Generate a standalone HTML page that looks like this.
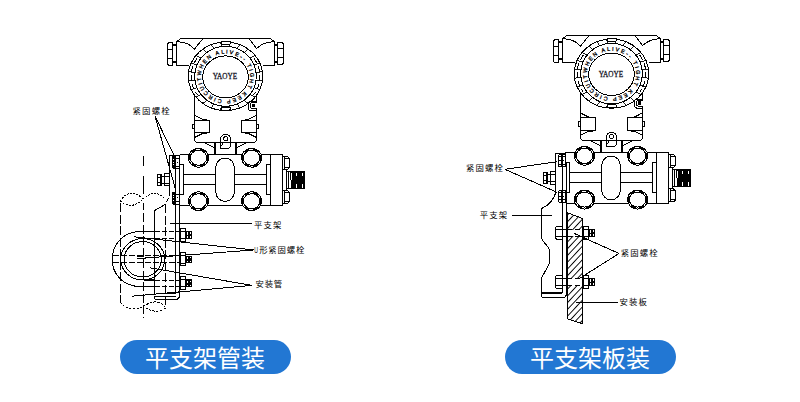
<!DOCTYPE html>
<html lang="zh-CN">
<head>
<meta charset="utf-8">
<title>平支架安装</title>
<style>
html,body{margin:0;padding:0;background:#fff;}
body{width:800px;height:402px;overflow:hidden;position:relative;font-family:"Liberation Sans","Noto Sans CJK SC",sans-serif;}
svg{position:absolute;left:0;top:0;display:block;}
svg .d{fill:none;stroke:#000;stroke-width:1;shape-rendering:crispEdges;stroke-linecap:butt;stroke-linejoin:miter;}
svg text{stroke:none;fill:#000;}
svg text.rt{stroke:#000;stroke-width:0.3px;}
svg text.lb{stroke:none;}
svg text.logo{stroke:#112;stroke-width:0.3px;}
.lb{font-family:"Liberation Sans","Noto Sans CJK SC",sans-serif;font-size:8.4px;letter-spacing:1.15px;font-weight:400;}
.rt{font-family:"Liberation Sans",sans-serif;font-size:5.4px;}
.logo{font-family:"Liberation Serif",serif;font-size:9px;font-weight:normal;fill:#1a1a2a;}
.pill{position:absolute;top:340px;height:34px;border-radius:17px;background:#2277d3;color:#fff;font-size:24px;line-height:34px;text-align:center;letter-spacing:0px;}
.pill span{display:block;position:relative;top:2px;left:-0.5px;}
</style>
</head>
<body>
<svg width="800" height="402" viewBox="0 0 800 402">
<g class="d">
<g>
<path d="M188.5,65.5 L176.5,65.5 L176.5,41.5 L181,38.5 L270,38.5 L274.5,41.5 L274.5,65.5 L262.5,65.5"/>
<path d="M176.5,41.5 Q184,42 189,44.5 L194.5,49 L203,38.5"/>
<path d="M274.5,41.5 Q267,42 262,44.5 L256.5,48.5 L249,38.5"/>
<path d="M169,42.5 L172.5,42.5 L172.5,65.5 L169,65.5 L167.5,64 L167.5,44 Z"/>
<path d="M167.5,49.5 L172.5,49.5 M167.5,58.5 L172.5,58.5"/>
<rect x="173" y="44" width="3.5" height="2" fill="#000" stroke="none"/>
<rect x="173" y="61" width="3.5" height="2" fill="#000" stroke="none"/>
<path d="M277.5,42.5 L282,42.5 L283.5,44 L283.5,63 L282,64.5 L277.5,64.5 Z"/>
<path d="M277.5,48.5 L283.5,48.5 M277.5,57.5 L283.5,57.5"/>
<rect x="274" y="44" width="3.5" height="2" fill="#000" stroke="none"/>
<rect x="274" y="61" width="3.5" height="2" fill="#000" stroke="none"/>
<path d="M194.5,94 L194.5,139 Q194.5,142.5 197.5,142.5 L253.5,142.5 Q256.5,142.5 256.5,139 L256.5,94"/>
<path d="M194,115 L203,119.6 M194,137.8 L203.5,133 M257,115 L248,119.6 M257,137.8 L247.5,133"/>
<rect x="194.6" y="120.2" width="15.2" height="12.4"/>
<rect x="241.2" y="120.2" width="15.2" height="12.4"/>
<path d="M202.5,119.9 L206.5,119.9 M202.5,132.9 L206.5,132.9 M244.5,119.9 L248.5,119.9 M244.5,132.9 L248.5,132.9" stroke-width="1.6"/>
<rect x="192.4" y="124" width="1.8" height="4.6"/>
<rect x="256.8" y="124" width="1.8" height="4.6"/>
<path d="M214.5,142.5 L214.5,154 M236,142.5 L236,154" stroke-width="2"/>
<path d="M204.2,142.6 L213.9,147.4 M246.8,142.6 L237,147.4"/>
<path d="M220.5,148.5 L220.5,139.3 A5.1,5 0 0 1 230.7,139.3 L230.7,146 L228.5,148.5 Z" fill="#fff"/>
<path d="M220.5,142.5 L230.7,142.5 M222.8,143 L221.5,146.5"/>
<ellipse cx="225.6" cy="138.7" rx="2.2" ry="2"  fill="#fff"/>
<ellipse cx="225.5" cy="76.3" rx="37.2" ry="34.3" fill="#fff"/>
<ellipse cx="225.5" cy="76.3" rx="37.2" ry="34.3"/>
<path d="M197.3,57.9 A34.4,32.2 0 0 0 197.3,94.7 M253.7,57.9 A34.4,32.2 0 0 1 253.7,94.7" stroke-dasharray="6 3"/>
<ellipse cx="225.5" cy="76.3" rx="30.8" ry="30"/>
<path d="M256.0,80.2L262.4,80.8M254.0,87.8L259.9,89.4M249.9,94.6L255.0,97.2M244.2,100.1L248.1,103.5M237.3,104.0L239.7,108.0M229.5,106.0L230.4,110.3M221.5,106.0L220.6,110.3M213.7,104.0L211.3,108.0M206.8,100.1L202.9,103.5M201.1,94.6L196.0,97.2M197.0,87.8L191.1,89.4M195.0,80.2L188.6,80.8M195.0,72.4L188.6,71.8M197.0,64.8L191.1,63.2M201.1,58.0L196.0,55.4M206.8,52.5L202.9,49.1M213.7,48.6L211.3,44.6M221.5,46.6L220.6,42.3M229.5,46.6L230.4,42.3M237.3,48.6L239.7,44.6M244.2,52.5L248.1,49.1M249.9,58.0L255.0,55.4M254.0,64.8L259.9,63.2M256.0,72.4L262.4,71.8" stroke-width="0.9"/>
<ellipse cx="225.5" cy="76.89999999999999" rx="22.8" ry="21"/>
<rect x="221.3" y="41.2" width="9" height="3.2" rx="1" fill="#fff"/>
<rect x="221.3" y="107.2" width="9" height="2.8" rx="1" fill="#fff"/>
<path id="arp" d="M200.9,76.7 A24.6,23.1 0 0 1 250.1,76.7 A24.6,23.1 0 0 1 200.9,76.7" fill="none" stroke="none"/>
<text class="rt"><textPath href="#arp" startOffset="1" textLength="147" lengthAdjust="spacing">WHEN ALIVE-- TIGHT KEEP CIRCUIT </textPath></text>
<text class="logo" x="224.9" y="79.2" text-anchor="middle" textLength="24.4" lengthAdjust="spacingAndGlyphs">YAOYE</text>
<path d="M256.5,101.5 L251,101.5 Q248.5,101.5 248.5,104 L248.5,108 Q248.5,110.5 251,110.5 L256.5,110.5 Z" fill="#fff"/>
<path d="M256.5,102.8 L252,102.8 Q250.6,102.8 250.6,104.2 L250.6,107 Q250.6,108.5 252,108.5 L256.5,108.5" fill="#fff"/>
<rect x="252" y="103.9" width="3" height="3.1" fill="#000" stroke="none"/>
<path d="M179.5,154.5 L282.5,154.5 L282.5,205.5 L179.5,205.5"/>
<path d="M179.5,154.5 L179.5,164.5 L183.5,164.5 L183.5,194.5 L179.5,194.5"/>
<path d="M270.5,154.5 L270.5,205.5 M270.5,164.5 L266.5,164.5 L266.5,194.5 L270.5,194.5"/>
<path d="M183.5,174.5 L266.5,174.5 M183.5,184.5 L266.5,184.5"/>
<path d="M215.8,167.2 A9.25,9.2 0 0 1 234.3,167.2 L234.3,192.2 A9.25,9.2 0 0 1 215.8,192.2 Z" fill="#fff"/>
<ellipse cx="198.5" cy="157.8" rx="10.4" ry="9.7" fill="#fff" stroke="none"/><ellipse cx="198.5" cy="157.8" rx="10.1" ry="9.4" fill="none"/><ellipse cx="198.5" cy="157.8" rx="9.2" ry="8.45" fill="none" stroke-dasharray="5 4" stroke-dashoffset="2"/><ellipse cx="198.5" cy="157.8" rx="8.3" ry="7.5" fill="none"/>
<ellipse cx="251.6" cy="157.8" rx="10.4" ry="9.7" fill="#fff" stroke="none"/><ellipse cx="251.6" cy="157.8" rx="10.1" ry="9.4" fill="none"/><ellipse cx="251.6" cy="157.8" rx="9.2" ry="8.45" fill="none" stroke-dasharray="5 4" stroke-dashoffset="2"/><ellipse cx="251.6" cy="157.8" rx="8.3" ry="7.5" fill="none"/>
<ellipse cx="198.5" cy="201.2" rx="10.4" ry="9.7" fill="#fff" stroke="none"/><ellipse cx="198.5" cy="201.2" rx="10.1" ry="9.4" fill="none"/><ellipse cx="198.5" cy="201.2" rx="9.2" ry="8.45" fill="none" stroke-dasharray="5 4" stroke-dashoffset="2"/><ellipse cx="198.5" cy="201.2" rx="8.3" ry="7.5" fill="none"/>
<ellipse cx="251.6" cy="201.2" rx="10.4" ry="9.7" fill="#fff" stroke="none"/><ellipse cx="251.6" cy="201.2" rx="10.1" ry="9.4" fill="none"/><ellipse cx="251.6" cy="201.2" rx="9.2" ry="8.45" fill="none" stroke-dasharray="5 4" stroke-dashoffset="2"/><ellipse cx="251.6" cy="201.2" rx="8.3" ry="7.5" fill="none"/>
<path d="M282.8,156.5 L287.5,156.5 L289.5,158.5 L289.5,167.5 L287.5,169.5 L282.8,169.5"/>
<path d="M282.8,190.5 L287.5,190.5 L289.5,192.5 L289.5,201.5 L287.5,203.5 L282.8,203.5"/>
<path d="M284.5,158.5 L289.5,158.5 M284.5,167.5 L289.5,167.5 M284.5,192.5 L289.5,192.5 M284.5,201.5 L289.5,201.5 M284.5,157 L284.5,169 M284.5,191 L284.5,203"/>
<path d="M286.5,169.5 L286.5,190.5"/>
<rect x="286.5" y="171.5" width="18" height="17" fill="#fff"/>
<rect x="290" y="171" width="15" height="18" fill="#000" stroke="none"/>
<path d="M288.5,172 L288.5,188"/>
<path d="M291.5,172.5 L291.5,179.5 M290.5,180 L290.5,187.5" stroke="#fff"/>
<path d="M296.5,172.5 L296.5,176 M296.5,184 L296.5,187.5 M302.5,172.5 L302.5,176 M302.5,184 L302.5,187.5" stroke="#fff"/>
<path d="M179.6,155.7 L169.5,155.7 L169.5,196.4"/>
<rect x="172.5" y="155.7" width="7.1" height="12.8" fill="#fff" stroke="none"/>
<path d="M172.5,158.89999999999998 L179.6,158.89999999999998 M172.5,166.0 L179.6,166.0 M172.5,168.5 L179.6,168.5"/>
<rect x="172.3" y="156.0" width="2.6" height="12" fill="#000" stroke="none"/>
<path d="M173.8,159.29999999999998 L173.8,165.5" stroke="#fff" stroke-dasharray="1 1.4"/>
<rect x="177" y="161.7" width="1" height="1" fill="#000" stroke="none"/>
<path d="M175.7,155.7 L175.7,168.5 M179.6,155.7 L179.6,168.5"/>
<rect x="172.5" y="191.2" width="7.1" height="12.8" fill="#fff" stroke="none"/>
<path d="M172.5,194.39999999999998 L179.6,194.39999999999998 M172.5,201.5 L179.6,201.5 M172.5,204.0 L179.6,204.0"/>
<rect x="172.3" y="191.5" width="2.6" height="12" fill="#000" stroke="none"/>
<path d="M173.8,194.79999999999998 L173.8,201.0" stroke="#fff" stroke-dasharray="1 1.4"/>
<rect x="177" y="197.2" width="1" height="1" fill="#000" stroke="none"/>
<path d="M175.7,191.2 L175.7,204.0 M179.6,191.2 L179.6,204.0"/>
<rect x="157.5" y="174.5" width="3.5" height="11" fill="#fff"/>
<path d="M160.7,174.5 L160.7,185.5" stroke-width="1.6"/>
<rect x="161.5" y="176.5" width="3" height="6.8" fill="#fff"/>
<rect x="164.5" y="173.5" width="5" height="12.4" fill="#fff"/>
<path d="M157.5,177.3 L161,177.3 M157.5,182.7 L161,182.7 M164.5,176 L169.5,176 M164.5,183.5 L169.5,183.5"/>
</g>
<path d="M175.6,156 L175.6,293.6 M179.4,164 L179.4,296" />
<path d="M160,293.4 L175.9,293.4" stroke-width="1.6"/>
<path d="M179.4,295.5 Q179.4,299.3 176,299.3 L156,299.3 Q154.5,299.3 154.5,297.6 Q154.5,296 156,296 L175.9,296"/>
<path d="M143.5,156.3 L143.5,166 M143.5,176 L143.5,193.5 M143.5,203 L143.5,210" />
<path d="M143.5,213 L143.5,318" stroke-dasharray="9 2.5"/>
<path d="M120.2,203 L120.2,302" stroke-dasharray="9 2.5"/>
<path d="M165.7,204 L165.7,309" stroke-dasharray="9 2.5"/>
<path d="M120.3,201 C123,196 128,193 132,193.1 C136.5,193.2 140,196.5 143.1,198.9 M120.3,201 C123,203.5 127,205.4 130.5,205.4 C135,205.4 140,202.5 143.1,198.9 C146.5,197.5 150.5,193.1 154,193.1 C158.5,193.2 163,196.5 165.3,199.5" stroke-dasharray="1.7 1.5"/>
<path d="M168.8,198 L166.3,202" />
<path d="M120.2,302 C123,306 128,309 135,309 C139,309 141,307.5 143.5,306.5 C146,305 150,301.5 156,302 C161,302.5 164,305 165.7,308 C163,310.5 158,311.5 154,311 C149,310.5 146,308 143.5,306.5" stroke-dasharray="2.2 1.5"/>
<path d="M154.5,231.4 L138,231.4 C122,233 112.3,245 112.3,259.3 C112.3,274 122,285.5 140,286.8 L154.5,286.8"/>
<path d="M154.5,231.4 L179,231.4 M154.5,238.3 L175,238.3 M154.5,280 L179,280 M154.5,286.8 L179,286.8" stroke-dasharray="5 2"/>
<path d="M143.5,280 L154.5,280" stroke-width="1.5"/>
<path d="M165.5,204 C162,206.5 158,208.8 154.5,210.5 L154.5,293.6"/>
<ellipse cx="142.7" cy="259.3" rx="22" ry="20.7"/>
<ellipse cx="142.7" cy="259.3" rx="18.6" ry="17.7"/>
<path d="M112.5,255.2 L179,255.2 M112.5,262 L179,262" stroke-dasharray="6 2"/>
<path d="M137,256.5 L143.5,256.5"/>
<rect x="180" y="228.3" width="5.6" height="13" fill="#fff"/><path d="M180.3,228.3 L180.3,241.3" stroke-width="1.6"/><path d="M180,231.3 L185.6,231.3 M180,238.5 L185.6,238.5"/><rect x="185.6" y="231.0" width="6.2" height="7.8" fill="#000" stroke="none"/><path d="M187.6,232.3 L187.6,234.9 M190.0,232.3 L190.0,233.5 M190.0,236.3 L190.0,237.5 M187.6,236.10000000000002 L187.6,237.5" stroke="#fff"/>
<rect x="180" y="252.8" width="5.6" height="13" fill="#fff"/><path d="M180.3,252.8 L180.3,265.8" stroke-width="1.6"/><path d="M180,255.8 L185.6,255.8 M180,263.0 L185.6,263.0"/><rect x="185.6" y="255.5" width="6.2" height="7.8" fill="#000" stroke="none"/><path d="M187.6,256.8 L187.6,259.40000000000003 M190.0,256.8 L190.0,258.0 M190.0,260.8 L190.0,262.0 M187.6,260.6 L187.6,262.0" stroke="#fff"/>
<rect x="180" y="276.7" width="5.6" height="13" fill="#fff"/><path d="M180.3,276.7 L180.3,289.7" stroke-width="1.6"/><path d="M180,279.7 L185.6,279.7 M180,286.9 L185.6,286.9"/><rect x="185.6" y="279.4" width="6.2" height="7.8" fill="#000" stroke="none"/><path d="M187.6,280.7 L187.6,283.3 M190.0,280.7 L190.0,281.9 M190.0,284.7 L190.0,285.9 M187.6,284.5 L187.6,285.9" stroke="#fff"/>
<path d="M155,116 L174.5,156.5 M155,116 L176,191"/>
<path d="M170.2,223.3 L252.4,223.3"/>
<path d="M253.6,250 L134,236.8 M253.6,250 L137.5,258.6"/>
<path d="M252,285.4 L150,267.8 M252,285.4 L132,296.2"/>
<text class="lb" x="132.6" y="114.2">紧固螺栓</text>
<text class="lb" x="254" y="228.4">平支架</text>
<text class="lb" x="254.2" y="253.4" textLength="4.4" lengthAdjust="spacingAndGlyphs">U</text><text class="lb" x="259.2" y="253.4" style="letter-spacing:0.8px">形紧固螺栓</text>
<text class="lb" x="255.6" y="287" style="letter-spacing:0.75px">安装管</text>
<g transform="translate(386,-3.33) scale(1,1.0086)">
<path d="M188.5,65.5 L176.5,65.5 L176.5,41.5 L181,38.5 L270,38.5 L274.5,41.5 L274.5,65.5 L262.5,65.5"/>
<path d="M176.5,41.5 Q184,42 189,44.5 L194.5,49 L203,38.5"/>
<path d="M274.5,41.5 Q267,42 262,44.5 L256.5,48.5 L249,38.5"/>
<path d="M169,42.5 L172.5,42.5 L172.5,65.5 L169,65.5 L167.5,64 L167.5,44 Z"/>
<path d="M167.5,49.5 L172.5,49.5 M167.5,58.5 L172.5,58.5"/>
<rect x="173" y="44" width="3.5" height="2" fill="#000" stroke="none"/>
<rect x="173" y="61" width="3.5" height="2" fill="#000" stroke="none"/>
<path d="M277.5,42.5 L282,42.5 L283.5,44 L283.5,63 L282,64.5 L277.5,64.5 Z"/>
<path d="M277.5,48.5 L283.5,48.5 M277.5,57.5 L283.5,57.5"/>
<rect x="274" y="44" width="3.5" height="2" fill="#000" stroke="none"/>
<rect x="274" y="61" width="3.5" height="2" fill="#000" stroke="none"/>
<path d="M194.5,94 L194.5,139 Q194.5,142.5 197.5,142.5 L253.5,142.5 Q256.5,142.5 256.5,139 L256.5,94"/>
<path d="M194,115 L203,119.6 M194,137.8 L203.5,133 M257,115 L248,119.6 M257,137.8 L247.5,133"/>
<rect x="194.6" y="120.2" width="15.2" height="12.4"/>
<rect x="241.2" y="120.2" width="15.2" height="12.4"/>
<path d="M202.5,119.9 L206.5,119.9 M202.5,132.9 L206.5,132.9 M244.5,119.9 L248.5,119.9 M244.5,132.9 L248.5,132.9" stroke-width="1.6"/>
<rect x="192.4" y="124" width="1.8" height="4.6"/>
<rect x="256.8" y="124" width="1.8" height="4.6"/>
<path d="M214.5,142.5 L214.5,154 M236,142.5 L236,154" stroke-width="2"/>
<path d="M204.2,142.6 L213.9,147.4 M246.8,142.6 L237,147.4"/>
<path d="M220.5,148.5 L220.5,139.3 A5.1,5 0 0 1 230.7,139.3 L230.7,146 L228.5,148.5 Z" fill="#fff"/>
<path d="M220.5,142.5 L230.7,142.5 M222.8,143 L221.5,146.5"/>
<ellipse cx="225.6" cy="138.7" rx="2.2" ry="2"  fill="#fff"/>
<ellipse cx="225.5" cy="76.3" rx="37.2" ry="34.3" fill="#fff"/>
<ellipse cx="225.5" cy="76.3" rx="37.2" ry="34.3"/>
<path d="M197.3,57.9 A34.4,32.2 0 0 0 197.3,94.7 M253.7,57.9 A34.4,32.2 0 0 1 253.7,94.7" stroke-dasharray="6 3"/>
<ellipse cx="225.5" cy="76.3" rx="30.8" ry="30"/>
<path d="M256.0,80.2L262.4,80.8M254.0,87.8L259.9,89.4M249.9,94.6L255.0,97.2M244.2,100.1L248.1,103.5M237.3,104.0L239.7,108.0M229.5,106.0L230.4,110.3M221.5,106.0L220.6,110.3M213.7,104.0L211.3,108.0M206.8,100.1L202.9,103.5M201.1,94.6L196.0,97.2M197.0,87.8L191.1,89.4M195.0,80.2L188.6,80.8M195.0,72.4L188.6,71.8M197.0,64.8L191.1,63.2M201.1,58.0L196.0,55.4M206.8,52.5L202.9,49.1M213.7,48.6L211.3,44.6M221.5,46.6L220.6,42.3M229.5,46.6L230.4,42.3M237.3,48.6L239.7,44.6M244.2,52.5L248.1,49.1M249.9,58.0L255.0,55.4M254.0,64.8L259.9,63.2M256.0,72.4L262.4,71.8" stroke-width="0.9"/>
<ellipse cx="225.5" cy="76.89999999999999" rx="22.8" ry="21"/>
<rect x="221.3" y="41.2" width="9" height="3.2" rx="1" fill="#fff"/>
<rect x="221.3" y="107.2" width="9" height="2.8" rx="1" fill="#fff"/>
<path id="brp" d="M200.9,76.7 A24.6,23.1 0 0 1 250.1,76.7 A24.6,23.1 0 0 1 200.9,76.7" fill="none" stroke="none"/>
<text class="rt"><textPath href="#brp" startOffset="1" textLength="147" lengthAdjust="spacing">WHEN ALIVE-- TIGHT KEEP CIRCUIT </textPath></text>
<text class="logo" x="224.9" y="79.2" text-anchor="middle" textLength="24.4" lengthAdjust="spacingAndGlyphs">YAOYE</text>
<path d="M256.5,101.5 L251,101.5 Q248.5,101.5 248.5,104 L248.5,108 Q248.5,110.5 251,110.5 L256.5,110.5 Z" fill="#fff"/>
<path d="M256.5,102.8 L252,102.8 Q250.6,102.8 250.6,104.2 L250.6,107 Q250.6,108.5 252,108.5 L256.5,108.5" fill="#fff"/>
<rect x="252" y="103.9" width="3" height="3.1" fill="#000" stroke="none"/>
<path d="M179.5,154.5 L282.5,154.5 L282.5,205.5 L179.5,205.5"/>
<path d="M179.5,154.5 L179.5,164.5 L183.5,164.5 L183.5,194.5 L179.5,194.5"/>
<path d="M270.5,154.5 L270.5,205.5 M270.5,164.5 L266.5,164.5 L266.5,194.5 L270.5,194.5"/>
<path d="M183.5,174.5 L266.5,174.5 M183.5,184.5 L266.5,184.5"/>
<path d="M215.8,167.2 A9.25,9.2 0 0 1 234.3,167.2 L234.3,192.2 A9.25,9.2 0 0 1 215.8,192.2 Z" fill="#fff"/>
<ellipse cx="198.5" cy="157.8" rx="10.4" ry="9.7" fill="#fff" stroke="none"/><ellipse cx="198.5" cy="157.8" rx="10.1" ry="9.4" fill="none"/><ellipse cx="198.5" cy="157.8" rx="9.2" ry="8.45" fill="none" stroke-dasharray="5 4" stroke-dashoffset="2"/><ellipse cx="198.5" cy="157.8" rx="8.3" ry="7.5" fill="none"/>
<ellipse cx="251.6" cy="157.8" rx="10.4" ry="9.7" fill="#fff" stroke="none"/><ellipse cx="251.6" cy="157.8" rx="10.1" ry="9.4" fill="none"/><ellipse cx="251.6" cy="157.8" rx="9.2" ry="8.45" fill="none" stroke-dasharray="5 4" stroke-dashoffset="2"/><ellipse cx="251.6" cy="157.8" rx="8.3" ry="7.5" fill="none"/>
<ellipse cx="198.5" cy="201.2" rx="10.4" ry="9.7" fill="#fff" stroke="none"/><ellipse cx="198.5" cy="201.2" rx="10.1" ry="9.4" fill="none"/><ellipse cx="198.5" cy="201.2" rx="9.2" ry="8.45" fill="none" stroke-dasharray="5 4" stroke-dashoffset="2"/><ellipse cx="198.5" cy="201.2" rx="8.3" ry="7.5" fill="none"/>
<ellipse cx="251.6" cy="201.2" rx="10.4" ry="9.7" fill="#fff" stroke="none"/><ellipse cx="251.6" cy="201.2" rx="10.1" ry="9.4" fill="none"/><ellipse cx="251.6" cy="201.2" rx="9.2" ry="8.45" fill="none" stroke-dasharray="5 4" stroke-dashoffset="2"/><ellipse cx="251.6" cy="201.2" rx="8.3" ry="7.5" fill="none"/>
<path d="M282.8,156.5 L287.5,156.5 L289.5,158.5 L289.5,167.5 L287.5,169.5 L282.8,169.5"/>
<path d="M282.8,190.5 L287.5,190.5 L289.5,192.5 L289.5,201.5 L287.5,203.5 L282.8,203.5"/>
<path d="M284.5,158.5 L289.5,158.5 M284.5,167.5 L289.5,167.5 M284.5,192.5 L289.5,192.5 M284.5,201.5 L289.5,201.5 M284.5,157 L284.5,169 M284.5,191 L284.5,203"/>
<path d="M286.5,169.5 L286.5,190.5"/>
<rect x="286.5" y="171.5" width="18" height="17" fill="#fff"/>
<rect x="290" y="171" width="15" height="18" fill="#000" stroke="none"/>
<path d="M288.5,172 L288.5,188"/>
<path d="M291.5,172.5 L291.5,179.5 M290.5,180 L290.5,187.5" stroke="#fff"/>
<path d="M296.5,172.5 L296.5,176 M296.5,184 L296.5,187.5 M302.5,172.5 L302.5,176 M302.5,184 L302.5,187.5" stroke="#fff"/>
<path d="M179.6,155.7 L169.5,155.7 L169.5,196.4"/>
<rect x="172.5" y="155.7" width="7.1" height="12.8" fill="#fff" stroke="none"/>
<path d="M172.5,158.89999999999998 L179.6,158.89999999999998 M172.5,166.0 L179.6,166.0 M172.5,168.5 L179.6,168.5"/>
<path d="M172.5,156.7 L172.5,168.5 M172.5,156.89999999999998 L179.6,156.89999999999998 M172.5,162.29999999999998 L176,162.29999999999998"/>
<rect x="177" y="161.7" width="1" height="1" fill="#000" stroke="none"/>
<path d="M175.7,155.7 L175.7,168.5 M179.6,155.7 L179.6,168.5"/>
<rect x="172.5" y="191.2" width="7.1" height="12.8" fill="#fff" stroke="none"/>
<path d="M172.5,194.39999999999998 L179.6,194.39999999999998 M172.5,201.5 L179.6,201.5 M172.5,204.0 L179.6,204.0"/>
<path d="M172.5,192.2 L172.5,204.0 M172.5,192.39999999999998 L179.6,192.39999999999998 M172.5,197.79999999999998 L176,197.79999999999998"/>
<rect x="177" y="197.2" width="1" height="1" fill="#000" stroke="none"/>
<path d="M175.7,191.2 L175.7,204.0 M179.6,191.2 L179.6,204.0"/>
<rect x="157.5" y="174.5" width="3.5" height="11" fill="#fff"/>
<path d="M160.7,174.5 L160.7,185.5" stroke-width="1.6"/>
<rect x="161.5" y="176.5" width="3" height="6.8" fill="#fff"/>
<rect x="164.5" y="173.5" width="5" height="12.4" fill="#fff"/>
<path d="M157.5,177.3 L161,177.3 M157.5,182.7 L161,182.7 M164.5,176 L169.5,176 M164.5,183.5 L169.5,183.5"/>
</g>
<path d="M562,154 L562,293 M566.3,162 L566.3,296" />
<path d="M566.3,203 L566.3,296" stroke-width="1.5"/>
<path d="M555.6,192 C554,200 548,205.5 542.5,208 Q541.3,208.6 541.3,210 L541.3,236.5 C541.3,242 549.6,246 549.6,251 L549.6,263 L541.3,278.5 L541.3,295.8 Q541.3,297.4 543,297.4 L563,297.4 Q566.3,297.4 566.3,294"/>
<path d="M542,293.2 L562,293.2" stroke-width="1.6"/>
<defs><pattern id="hatch" width="4.6" height="4.6" patternUnits="userSpaceOnUse" patternTransform="rotate(-47)"><path d="M0,0.5 L4.6,0.5" stroke="#000" stroke-width="1"/></pattern></defs>
<path d="M567.6,212.8 L582.6,218.5 L582.6,323.8 L567.6,319 Z" fill="#fff"/>
<path d="M567.6,212.8 L582.6,218.5 L582.6,323.8 L567.6,319 Z" fill="url(#hatch)"/>
<rect x="568" y="229.9" width="14" height="6" fill="#fff" stroke="none"/>
<path d="M567,229.4 L583,229.4 M567,236.5 L583,236.5" stroke-dasharray="5 2.5"/>
<path d="M557,226.3 L562,226.3 L562,239.3 L557,239.3 Q555.2,238.9 555.2,237.3 L555.2,228.5 Q555.2,226.9 557,226.3 Z" fill="#fff"/>
<path d="M556,229.4 L566,229.4 M556,236.5 L566,236.5"/>
<rect x="583" y="226.3" width="5.7" height="13" fill="#fff"/><path d="M583.3,226.3 L583.3,239.3" stroke-width="1.6"/><path d="M583,229.3 L588.7,229.3 M583,236.5 L588.7,236.5"/><rect x="588.7" y="229.0" width="6.2" height="7.8" fill="#000" stroke="none"/><path d="M590.7,230.3 L590.7,232.9 M593.1,230.3 L593.1,231.5 M593.1,234.3 L593.1,235.5 M590.7,234.10000000000002 L590.7,235.5" stroke="#fff"/>
<rect x="568" y="279.0" width="14" height="6" fill="#fff" stroke="none"/>
<path d="M567,278.5 L583,278.5 M567,285.59999999999997 L583,285.59999999999997" stroke-dasharray="5 2.5"/>
<path d="M557,275.4 L562,275.4 L562,288.4 L557,288.4 Q555.2,288.0 555.2,286.4 L555.2,277.59999999999997 Q555.2,276.0 557,275.4 Z" fill="#fff"/>
<path d="M556,278.5 L566,278.5 M556,285.59999999999997 L566,285.59999999999997"/>
<rect x="583" y="275.4" width="5.7" height="13" fill="#fff"/><path d="M583.3,275.4 L583.3,288.4" stroke-width="1.6"/><path d="M583,278.4 L588.7,278.4 M583,285.59999999999997 L588.7,285.59999999999997"/><rect x="588.7" y="278.09999999999997" width="6.2" height="7.8" fill="#000" stroke="none"/><path d="M590.7,279.4 L590.7,282.0 M593.1,279.4 L593.1,280.59999999999997 M593.1,283.4 L593.1,284.59999999999997 M590.7,283.2 L590.7,284.59999999999997" stroke="#fff"/>
<path d="M504.9,169.3 L557,161.7 M504.9,169.3 L557,192.3"/>
<path d="M511.8,215 L551.7,215"/>
<path d="M619,253.5 L574,233.3 M619,253.5 L579,278.7"/>
<path d="M575.9,302.1 L617.9,302.1"/>
<text class="lb" x="466" y="171.2">紧固螺栓</text>
<text class="lb" x="479.8" y="218.2">平支架</text>
<text class="lb" x="620.8" y="256.4">紧固螺栓</text>
<text class="lb" x="619.4" y="305">安装板</text>
</g>
</svg>
<div class="pill" style="left:120px;width:171px;"><span>平支架管装</span></div>
<div class="pill" style="left:505px;width:171px;"><span>平支架板装</span></div>
</body>
</html>
